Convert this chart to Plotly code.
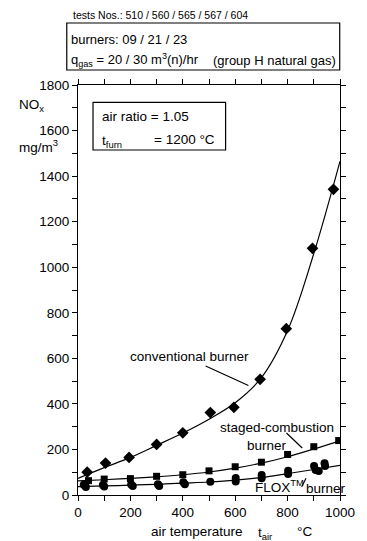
import plotly.graph_objects as go

# ---------------- data ----------------
curve_x = [0, 100, 200, 300, 400, 500, 600, 700, 800, 900, 1000]

conv_x = [35, 105, 195, 300, 400, 505, 595, 695, 795, 895, 975]
conv_y = [100, 140, 165, 222, 273, 362, 385, 508, 730, 1083, 1342]
conv_curve = [73, 120, 165, 218, 272, 333, 405, 515, 722, 1060, 1465]

staged_x = [40, 100, 200, 300, 400, 500, 600, 700, 800, 900, 995]
staged_y = [63, 70, 72, 82, 89, 106, 124, 144, 178, 212, 239]
staged_curve = [62, 67, 73, 80, 89, 101, 118, 140, 168, 202, 238]

flox_x = [22, 30, 95, 100, 203, 209, 305, 310, 402, 408, 505, 602, 602,
          701, 701, 802, 802, 901, 907, 919, 941, 943]
flox_y = [45, 35, 44, 37, 46, 39, 47, 40, 56, 47, 58, 75, 59,
          88, 73, 106, 92, 127, 110, 105, 139, 127]
flox_curve = [37, 40, 43, 47, 52, 57, 65, 77, 94, 112, 130]

x_ticks = list(range(0, 1001, 100))
x_labels = [str(v) if v % 200 == 0 else "" for v in x_ticks]
y_ticks = list(range(0, 1801, 100))
y_labels = [str(v) if v % 200 == 0 else "" for v in y_ticks]

# ---------------- layout geometry ----------------
W, H = 367, 541
L, R, T, B = 77.5, 14, 85, 46
PW = W - L - R
PH = H - T - B
FONT = "Liberation Sans, Arial, sans-serif"


def px(x):
    return (x - L) / PW


def py(y):
    return (H - B - y) / PH


fig = go.Figure()

LW = 1.2
for cy in (conv_curve, staged_curve, flox_curve):
    fig.add_trace(go.Scatter(x=curve_x, y=cy, mode="lines",
                             line=dict(color="black", width=LW, shape="spline"),
                             showlegend=False, hoverinfo="skip"))

fig.add_trace(go.Scatter(x=conv_x, y=conv_y, mode="markers",
                         marker=dict(symbol="diamond", size=9, color="black"),
                         showlegend=False))
fig.add_trace(go.Scatter(x=staged_x, y=staged_y, mode="markers",
                         marker=dict(symbol="square", size=7, color="black"),
                         showlegend=False))
fig.add_trace(go.Scatter(x=flox_x, y=flox_y, mode="markers",
                         marker=dict(symbol="circle", size=8, color="black"),
                         showlegend=False))

axis_common = dict(showline=True, linecolor="black", linewidth=LW,
                   mirror="ticks", ticks="outside", ticklen=5, tickwidth=1,
                   tickcolor="black", showgrid=False, zeroline=False,
                   tickfont=dict(family=FONT, size=13.5, color="black"))

fig.update_xaxes(range=[0, 1000], tickvals=x_ticks, ticktext=x_labels,
                 **axis_common)
fig.update_yaxes(range=[0, 1800], tickvals=y_ticks, ticktext=y_labels,
                 **axis_common)

ann = []


def text(s, x, y, size=13.5, anchor="left"):
    ann.append(dict(text=s, x=px(x), y=py(y), xref="paper", yref="paper",
                    xanchor=anchor, yanchor="middle", showarrow=False,
                    font=dict(family=FONT, size=size, color="black")))


# header
text("tests Nos.: 510 / 560 / 565 / 567 / 604", 70.5, 15, size=10.5)
text("burners: 09 / 21 / 23", 68.5, 40, size=13)
text("q<sub>gas</sub> = 20 / 30 m<sup>3</sup>(n)/hr", 68.5, 60, size=13)
text("(group H natural gas)", 350.5, 61, size=13, anchor="right")

# inner box
text("air ratio = 1.05", 100.7, 117)
text("t<sub>furn</sub>", 100.7, 141)
text("= 1200 °C", 155, 139.5)

# y-axis title
text("NO<sub>x</sub>", 13, 105)
text("mg/m<sup>3</sup>", 13, 146)

# curve labels
text("conventional burner", 195, 357, anchor="center")
text("staged-combustion", 286.5, 427.3, anchor="center")
text("burner", 276, 445, anchor="center")
text("FLOX<sup>TM</sup>", 261.5, 486)
text("burner", 315, 488.5)

# x-axis title
text("air temperature", 253.5, 531, anchor="right")
text("t<sub>air</sub>", 265, 533)
text("°C", 306, 531)

shapes = []


def rect(x0, y0, x1, y1):
    shapes.append(dict(type="rect", xref="paper", yref="paper",
                       x0=px(x0), x1=px(x1), y0=py(y0), y1=py(y1),
                       line=dict(color="black", width=1.2)))


def seg(x0, y0, x1, y1):
    shapes.append(dict(type="line", xref="paper", yref="paper",
                       x0=px(x0), x1=px(x1), y0=py(y0), y1=py(y1),
                       line=dict(color="black", width=1.2)))


rect(65.7, 23, 352.7, 70)
rect(93.3, 102.3, 232.7, 150)
seg(211.7, 366, 256.7, 385.5)
seg(296.7, 433, 313.3, 448)
seg(312.7, 486.7, 317.3, 478.3)

fig.update_layout(width=W, height=H,
                  margin=dict(l=L, r=R, t=T, b=B, pad=0),
                  plot_bgcolor="white", paper_bgcolor="white",
                  annotations=ann, shapes=shapes, showlegend=False,
                  font=dict(family=FONT, size=13.5, color="black"))

fig.write_html("out.html")
